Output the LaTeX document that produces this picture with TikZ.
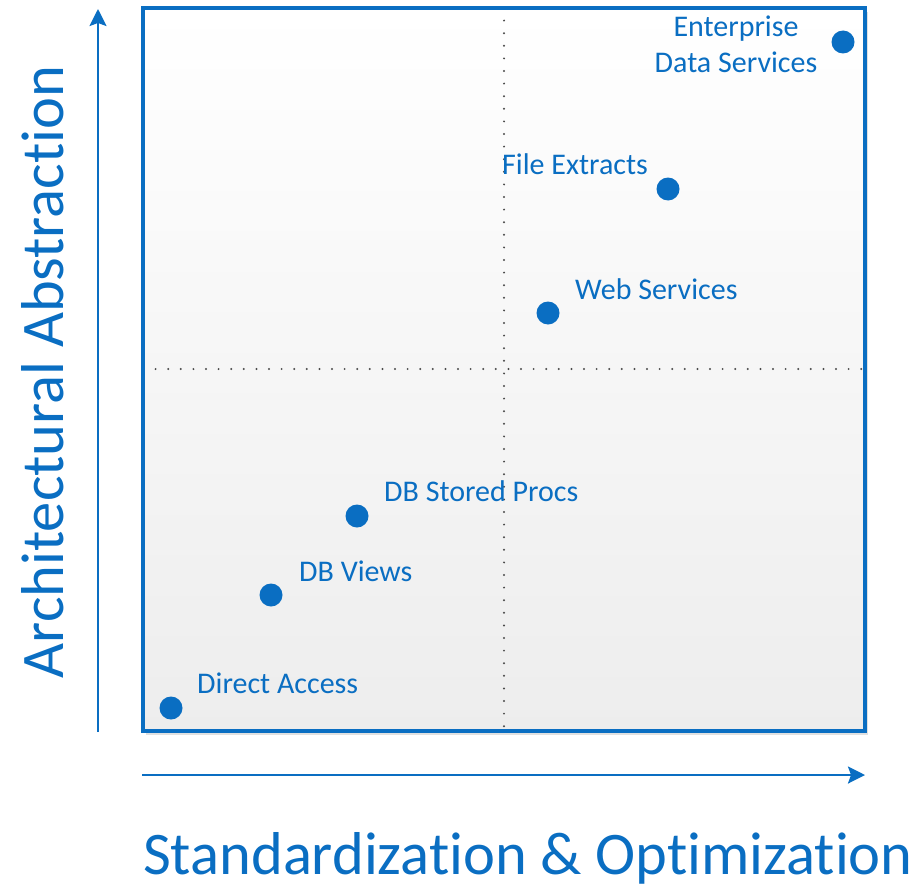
\documentclass[tikz,border=0pt]{standalone}
\usepackage{fontspec}
\setmainfont{Carlito}[Ligatures=NoCommon]
\usetikzlibrary{arrows.meta}
\definecolor{accent}{HTML}{0A6EC2}
\definecolor{gridgray}{HTML}{4A4A4A}
\begin{document}
\begin{tikzpicture}[x=1pt,y=-1pt,
  item/.style={circle,fill=accent,minimum size=23pt,inner sep=0pt},
  itemlabel/.style={text=accent,font=\fontsize{30}{36}\selectfont,inner sep=0pt},
  axislabel/.style={text=accent,font=\fontsize{60.5}{72}\selectfont,inner sep=0pt},
  axisline/.style={draw=accent,line width=2.5pt,-{Stealth[length=17pt,width=17pt,inset=3pt]}},
  quadgrid/.style={draw=gridgray,line width=2.2pt,dash pattern=on 0pt off 12.6pt,line cap=round}]
\useasboundingbox (0,0) rectangle (920,888);

% shaded frame of the chart
\fill[black!12] (146,12) rectangle (868,735);
\shade[top color=white,bottom color=black!7] (143,8) rectangle (865,731);
\coordinate (midtop) at (504,8);
\coordinate (midbot) at (504,731);
\coordinate (midleft) at (143,369);
\coordinate (midright) at (865,369);
\draw[quadgrid] (midtop) -- (midbot);
\draw[quadgrid] (midleft) -- (midright);
\draw[accent,line width=3.5pt] (143,8) rectangle (865,731);

% axes
\coordinate (yfrom) at (98,732);
\coordinate (yto) at (98,9);
\coordinate (xfrom) at (142,775);
\coordinate (xto) at (865,775);
\draw[axisline] (yfrom) -- (yto);
\draw[axisline] (xfrom) -- (xto);
\node[axislabel,anchor=base,rotate=90] (ylab) at (63,372) {Architectural Abstraction};
\node[axislabel,anchor=base west] (xlab) at (143,874) {Standardization \& Optimization};

% plotted approaches
\node[item] (direct) at (171,708) {};
\node[item] (views) at (271,595) {};
\node[item] (procs) at (357,516) {};
\node[item] (web) at (548,313) {};
\node[item] (files) at (668,189) {};
\node[item] (eds) at (843,42) {};

\node[itemlabel,anchor=base west] (directlab) at (197,693) {Direct Access};
\node[itemlabel,anchor=base west] (viewslab) at (299,581) {DB Views};
\node[itemlabel,anchor=base west] (procslab) at (384,501) {DB Stored Procs};
\node[itemlabel,anchor=base west] (weblab) at (575,299) {Web Services};
\node[itemlabel,anchor=base west] (fileslab) at (502,174) {File Extracts};
\node[itemlabel,anchor=base] (edslab1) at (736,37) {Enterprise};
\node[itemlabel,anchor=base] (edslab2) at (736,73) {Data Services};
\end{tikzpicture}
\end{document}
